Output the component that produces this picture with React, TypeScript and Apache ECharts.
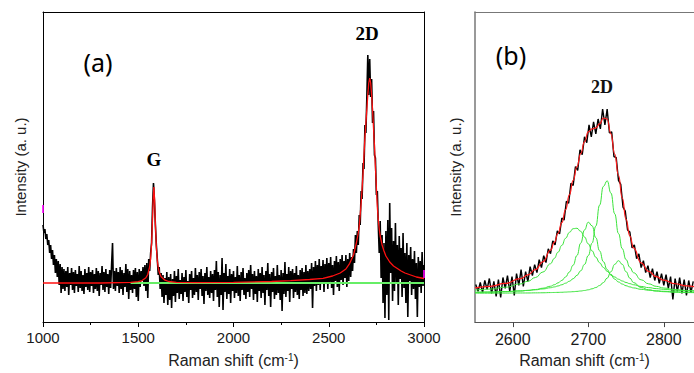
import React, { useEffect, useRef } from "react";
import * as echarts from "echarts";

// ---------- Panel (a): full spectrum, 1000–3000 cm-1 ----------
const A_X_START = 1000;
const A_X_STEP = 5;
// measured intensity (arbitrary units, baseline = 0), one value every 5 cm-1
const blackAY = [
  58, 50, 54, 44, 49, 38, 43, 30, 38, 24, 33, 18, 28, 10, 24, 6, 22, -2, 19, -10, 16,
  -6, 14, -8, 12, -4, 16, -12, 10, -2, 15,
  -7, 11, -10, 13, -3, 9, -9, 17, -5, 12,
  -8, 8, -11, 14, -4, 10, -7, 16, -9, 11,
  -3, 13, -10, 9, -6, 15, -8, 12, -13, 10,
  -2, 17, -7, 11, -9, 14, -4, 9, -11, 13,
  -5, 18, 40, -6, 12, -8, 15, -3, 11, -10,
  16, -6, 13, -12, 10, -4, 19, -9, 14, -16,
  12, -7,
  8, -10, 13, -6, 15, -14, 11, -18, 14, -4, 12, 2, 16, -3, 18, -8, 20, -15, 24, 12,
  30, 40, 76, 100, 82, 58, 38, 24, 8, 16, -6, 10,
  -14, 8, -20, 5, -12, 11, -22, 6, -17, 9,
  -25, 4, -13, 12, -19, 7, -10, 14, -16, 3,
  -11, 10, -18, 6, -9, 13, -14, 2, -20, 9,
  -7, 12, -15, 5, -12, 15, -9, 8, -17, 11,
  -6, 14, -13, 7, -21, 10, -8, 16, -12, 6,
  -15, 12, -10, 9, -18, 13, -7, 22, -14, 11,
  -24, 8, -12, 25, -27, 10, -9, 19, -16, 7,
  -11, 14, -20, 9, -8, 12, -15, 6, -10, 17,
  -13, 8, -18, 11, -7, 15, -12, 5, -16, 10,
  -9, 13, -14, 18, -6, 9, -17, 12, -11, 7,
  -19, 14, -8, 10, -15, 16, -10, 8, -22, 12,
  -7, 20, -13, 9, -24, 11, -9, 15, -16, 7,
  -12, 18, -10, 8, -17, 13, -28, 10, -11, 21,
  -14, 9, -8, 16, -19, 12, -6, 14, -15, 10,
  -9, 17, -12, 8, -16, 13, -7, 15, -13, 11,
  -10, 18, -11, 12, -8, 14,
  -6, 20, -25, 16, -3, 22, -8, 18, -2, 24,
  -7, 17, 0, 23, -9, 19, -1, 25, -6, 20,
  1, 26, -5, 18, -12, 22, 2, 27, -4, 21,
  -8, 24, 3, 28, -2, 22, 5, 28, -4, 24,
  2, 30, 6, 26, 12, 34, 20, 48, 30, 52,
  38, 68, 58, 92, 84, 120, 114, 158, 150, 186, 228, 188, 224, 186, 204, 160, 172, 128, 125, 88, 92, 58,
  30, 62, 5, 48, -20, 40, -35, 52, -12, 63,
  -37, 80, 10, 55, -18, 42, -8, 60, 0, 38,
  -22, 47, 4, 35, -14, 50, -5, 30, -20, 40,
  -34, 28, 2, 36, -12, 24, -6, 32, -16, 20,
  -34, 26, -4, 22, -10, 31, -3, 18,
];
// fitted curve (red)
const fitAX = [
  1000, 1300, 1460, 1500, 1520, 1540, 1550, 1560, 1565, 1570, 1575, 1578, 1582, 1586, 1590, 1595,
  1600, 1605, 1610, 1620, 1640, 1660, 1700, 1800, 2000, 2200, 2300, 2400, 2470, 2520, 2560, 2590,
  2610, 2630, 2645, 2650, 2655, 2660, 2665, 2670, 2675, 2680, 2685, 2690, 2695, 2700, 2705, 2710,
  2715, 2720, 2725, 2730, 2735, 2740, 2745, 2750, 2755, 2760, 2765, 2770, 2780, 2790, 2800, 2820,
  2840, 2860, 2880, 2900, 2930, 2960, 3000,
];
const fitAY = [
  0, 0, 0.6, 1.4, 2.4, 5.2, 8.5, 16.4, 24.7, 39.3, 64.4, 82.8, 96, 82.8, 58.5, 35.7,
  22.6, 15.3, 10.9, 6.2, 2.8, 1.5, 0.7, 0.3, 0.6, 1.5, 2.3, 3.5, 4.7, 7, 10, 14,
  19.7, 28, 40, 45, 50, 57, 68, 80, 94, 110, 128, 146, 160, 174, 188, 200,
  205, 200, 188, 173, 155, 137, 116, 95, 76, 63, 54, 47, 38, 32, 27, 21,
  17, 14.5, 12, 10, 8, 6, 4.5,
];
const baseAX = [1460, 3000];
const baseAY = [0, 0];
const markAX = [1000, 3000];
const markAY = [74, 9];

// ---------- Panel (b): 2D band, 2550–2840 cm-1 ----------
const B_X_START = 2551;
const B_X_STEP = 3;
const blackBY = [
  9, 2, 11, 1, 13, 4, 15, 0, 12, -3,
  14, -4, 16, 5, 18, 2, 17, -2, 20, 8,
  24, 7, 22, 12, 27, 18, 29, 21, 34, 26,
  38, 31, 45, 40, 53, 49, 63, 60, 76, 74,
  93, 91, 111, 109, 128, 124, 145, 140, 158, 152,
  170, 158, 173, 161, 176, 166, 186, 170, 186, 162,
  163, 138, 137, 114, 110, 87, 83, 64, 62, 46,
  49, 35, 40, 26, 33, 21, 28, 16, 25, 13,
  22, 10, 20, 8, 19, 5, 17, -6, 15, 2,
  16, 0, 14, -2, 13, 1, 12,
];
const fitBX = [
  2550, 2570, 2590, 2610, 2620, 2630, 2640, 2650, 2655, 2660, 2665, 2670, 2675, 2680, 2685, 2690,
  2695, 2700, 2705, 2710, 2715, 2720, 2725, 2730, 2735, 2740, 2745, 2750, 2755, 2760, 2770, 2780,
  2790, 2800, 2815, 2830, 2845,
];
const fitBY = [
  5.5, 7.1, 10.0, 14.8, 18.6, 24.0, 31.9, 43.6, 51.4, 60.7, 71.4, 84.5, 99.5, 114, 128, 141,
  153, 163, 166, 167, 171, 177, 176, 161, 140.5, 119.2, 96.3, 74.7, 58.1, 45.9, 30.7, 22.2,
  16.8, 13.3, 9.7, 7.5, 6.0,
];
const comp1Y = [
  3.2, 4.3, 6.2, 9.5, 12.2, 16.0, 21.6, 29.9, 35.3, 41.6, 48.5, 55.6, 61.6, 65.3, 65.7, 62.6,
  56.9, 50.0, 42.9, 36.5, 30.9, 26.2, 22.3, 19.1, 16.5, 14.3, 12.5, 11.0, 9.8, 8.7, 7.0, 5.8,
  4.8, 4.1, 3.2, 2.6, 2.2,
];
const comp2Y = [
  0.9, 1.2, 1.7, 2.4, 3.0, 3.9, 5.2, 7.2, 8.7, 10.6, 13.1, 16.6, 21.6, 28.5, 38.2, 50.7,
  64.0, 71.8, 68.2, 56.2, 42.9, 32.0, 24.1, 18.4, 14.4, 11.5, 9.4, 7.7, 6.5, 5.5, 4.1, 3.2,
  2.5, 2.1, 1.6, 1.2, 1.0,
];
const comp3Y = [
  1.1, 1.4, 1.8, 2.5, 3.0, 3.6, 4.5, 5.7, 6.5, 7.5, 8.7, 10.3, 12.2, 14.8, 18.2, 22.8,
  29.2, 38.1, 50.7, 67.9, 89.1, 108.0, 113.6, 101.3, 80.3, 60.4, 45.1, 34.1, 26.4, 20.8, 13.7, 9.6,
  7.1, 5.4, 3.8, 2.9, 2.2,
];
const comp4Y = [
  0.2, 0.2, 0.3, 0.4, 0.4, 0.5, 0.6, 0.8, 0.9, 1.0, 1.1, 1.3, 1.5, 1.7, 2.0, 2.4,
  2.9, 3.6, 4.6, 5.9, 7.9, 10.9, 15.4, 21.9, 29.3, 33.0, 29.3, 21.9, 15.4, 10.9, 5.9, 3.6,
  2.4, 1.7, 1.1, 0.8, 0.6,
];
const bTicks = [2600, 2700, 2800];

const SANS = "'Liberation Sans', Arial, sans-serif";

const pairs = (xs: number[], ys: number[]) => xs.map((x, i) => [x, ys[i]]);
const stepPairs = (start: number, step: number, ys: number[]) => ys.map((y, i) => [start + step * i, y]);
const plain = (v: number) => String(v);

function lineSeries(xi: number, data: number[][], color: string, width: number, z: number, smooth: any = false) {
  return {
    type: "line",
    xAxisIndex: xi,
    yAxisIndex: xi,
    data,
    showSymbol: false,
    symbol: "none",
    smooth,
    smoothMonotone: "x",
    silent: true,
    z,
    lineStyle: { color, width },
  };
}

const nameRich = (size: number) => ({
  fontSize: size,
  color: "#222",
  fontFamily: SANS,
  rich: {
    sup: { fontSize: 10, color: "#222", fontFamily: SANS, verticalAlign: "top", lineHeight: 14 },
  },
});

export default function App() {
  const ref = useRef<HTMLDivElement>(null);
  useEffect(() => {
    if (!ref.current) return;
    const chart = echarts.init(ref.current, null, { renderer: "svg" });
    const option: any = {
      animation: false,
      backgroundColor: "#ffffff",
      grid: [
        { left: 43, top: 12, width: 381, height: 310 },
        { left: 475, top: 12, width: 220, height: 313 },
      ],
      xAxis: [
        {
          type: "value", gridIndex: 0, min: 1000, max: 3000, interval: 500, position: "bottom",
          axisLine: { show: true, onZero: false, lineStyle: { color: "#000", width: 1 } },
          axisTick: { show: true, length: 5, lineStyle: { color: "#000" } },
          minorTick: { show: true, splitNumber: 2, length: 3, lineStyle: { color: "#000" } },
          axisLabel: { fontSize: 15, color: "#1a1a1a", fontFamily: SANS, margin: 8, formatter: plain },
          splitLine: { show: false },
          name: "Raman shift (cm{sup|-1})", nameLocation: "middle", nameGap: 30,
          nameTextStyle: nameRich(16),
        },
        {
          type: "value", gridIndex: 0, min: 1000, max: 3000, position: "top",
          axisLine: { show: true, onZero: false, lineStyle: { color: "#000", width: 1 } },
          axisTick: { show: false }, axisLabel: { show: false }, splitLine: { show: false },
        },
        {
          type: "value", gridIndex: 1, min: 2550, max: 2840, position: "bottom",
          axisLine: { show: true, onZero: false, lineStyle: { color: "#555", width: 1.2 } },
          axisTick: { show: true, length: 5, lineStyle: { color: "#444" }, customValues: bTicks },
          axisLabel: { fontSize: 16, color: "#1a1a1a", fontFamily: SANS, margin: 9, customValues: bTicks, formatter: plain },
          splitLine: { show: false },
          name: "Raman shift (cm{sup|-1})", nameLocation: "middle", nameGap: 29,
          nameTextStyle: nameRich(16),
        },
        {
          type: "value", gridIndex: 1, min: 2550, max: 2840, position: "top",
          axisLine: { show: true, onZero: false, lineStyle: { color: "#777", width: 1 } },
          axisTick: { show: false }, axisLabel: { show: false }, splitLine: { show: false },
        },
      ],
      yAxis: [
        {
          type: "value", gridIndex: 0, min: -39, max: 271, position: "left",
          axisLine: { show: true, onZero: false, lineStyle: { color: "#000", width: 1 } },
          axisTick: { show: false }, axisLabel: { show: false }, splitLine: { show: false },
          name: "Intensity (a. u.)", nameLocation: "middle", nameGap: 15,
          nameTextStyle: { fontSize: 15, color: "#222", fontFamily: SANS },
        },
        {
          type: "value", gridIndex: 0, min: -39, max: 271, position: "right",
          axisLine: { show: true, onZero: false, lineStyle: { color: "#000", width: 1 } },
          axisTick: { show: false }, axisLabel: { show: false }, splitLine: { show: false },
        },
        {
          type: "value", gridIndex: 1, min: -29, max: 284, position: "left",
          axisLine: { show: true, onZero: false, lineStyle: { color: "#777", width: 1.5 } },
          axisTick: { show: false }, axisLabel: { show: false }, splitLine: { show: false },
          name: "Intensity (a. u.)", nameLocation: "middle", nameGap: 12,
          nameTextStyle: { fontSize: 15, color: "#222", fontFamily: SANS },
        },
      ],
      series: [
        lineSeries(0, stepPairs(A_X_START, A_X_STEP, blackAY), "#000000", 1.6, 2),
        lineSeries(0, pairs(baseAX, baseAY), "#66ee66", 2, 3),
        lineSeries(0, pairs(fitAX, fitAY), "#ff1010", 1.3, 4),
        {
          type: "scatter", xAxisIndex: 0, yAxisIndex: 0, data: pairs(markAX, markAY),
          symbol: "rect", symbolSize: [2, 8], itemStyle: { color: "#ff00ff" }, z: 5, silent: true,
          clip: false,
        },
        { ...lineSeries(2, stepPairs(B_X_START, B_X_STEP, blackBY), "#000000", 1.4, 2), yAxisIndex: 2 },
        { ...lineSeries(2, pairs(fitBX, comp1Y), "#3be33b", 1, 3, 0.5), yAxisIndex: 2 },
        { ...lineSeries(2, pairs(fitBX, comp2Y), "#3be33b", 1, 3, 0.5), yAxisIndex: 2 },
        { ...lineSeries(2, pairs(fitBX, comp3Y), "#3be33b", 1, 3, 0.5), yAxisIndex: 2 },
        { ...lineSeries(2, pairs(fitBX, comp4Y), "#3be33b", 1, 3, 0.5), yAxisIndex: 2 },
        { ...lineSeries(2, pairs(fitBX, fitBY), "#ff1a1a", 1.2, 4, 0.5), yAxisIndex: 2 },
      ],
      graphic: [
        { type: "text", x: 98, y: 62, style: { text: "(a)", font: "25px 'Noto Sans', sans-serif", fill: "#000", textAlign: "center", textVerticalAlign: "middle" } },
        { type: "text", x: 511, y: 55, style: { text: "(b)", font: "25px 'Noto Sans', sans-serif", fill: "#000", textAlign: "center", textVerticalAlign: "middle" } },
        { type: "text", x: 154, y: 159, style: { text: "G", font: "bold 19px 'Liberation Serif', serif", fill: "#000", textAlign: "center", textVerticalAlign: "middle" } },
        { type: "text", x: 367, y: 33, style: { text: "2D", font: "bold 19px 'Liberation Serif', serif", fill: "#000", textAlign: "center", textVerticalAlign: "middle" } },
        { type: "text", x: 602, y: 87, style: { text: "2D", font: "bold 18px 'Liberation Serif', serif", fill: "#111", textAlign: "center", textVerticalAlign: "middle" } },
      ],
    };
    chart.setOption(option);
    return () => chart.dispose();
  }, []);
  return <div ref={ref} style={{ position: "absolute", left: 0, top: 0, width: 694, height: 373 }} />;
}
